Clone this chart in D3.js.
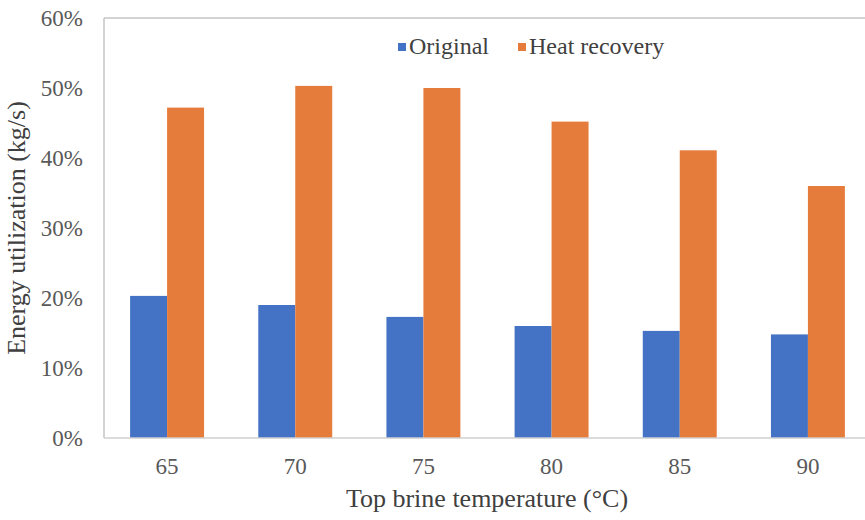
<!DOCTYPE html>
<html>
<head>
<meta charset="utf-8">
<script src="https://cdn.jsdelivr.net/npm/d3@7"></script>
<style>
  html, body { margin: 0; padding: 0; background: #fff; }
  svg { display: block; }
  text { font-family: "Liberation Serif", "Times New Roman", serif; }
</style>
</head>
<body>
<svg id="chart" width="865" height="520"></svg>
<script>
// Top brine temperature categories (°C)
const categories = ["65", "70", "75", "80", "85", "90"];
// Energy utilization, fraction of 1
const original = [0.203, 0.190, 0.173, 0.160, 0.153, 0.148];
const heatRecovery = [0.472, 0.503, 0.500, 0.452, 0.411, 0.360];
const seriesNames = ["Original", "Heat recovery"];
const yTicks = [0, 0.1, 0.2, 0.3, 0.4, 0.5, 0.6];

const colors = { "Original": "#4472c4", "Heat recovery": "#e67c3b" };

const svg = d3.select("#chart");
const plot = { left: 104, right: 872, top: 18, bottom: 438 };

const x0 = d3.scaleBand()
  .domain(categories)
  .range([plot.left - 1, plot.right])
  .paddingInner(0.423)
  .paddingOuter(0.2115);

const x1 = d3.scaleBand()
  .domain(seriesNames)
  .range([0, x0.bandwidth()]);

const y = d3.scaleLinear()
  .domain([0, 0.6])
  .range([plot.bottom, plot.top]);

const rows = categories.map((c, i) => ({
  cat: c,
  values: [
    { name: "Original", v: original[i] },
    { name: "Heat recovery", v: heatRecovery[i] }
  ]
}));

// Bars
const groups = svg.append("g").selectAll("g")
  .data(rows)
  .join("g")
  .attr("transform", d => `translate(${x0(d.cat)},0)`);

groups.selectAll("rect")
  .data(d => d.values)
  .join("rect")
  .attr("x", d => x1(d.name))
  .attr("y", d => y(d.v))
  .attr("width", x1.bandwidth())
  .attr("height", d => y(0) - y(d.v))
  .attr("fill", d => colors[d.name]);

// Frame: left and top lines
const frameColor = "#c4c4c4";
svg.append("line")
  .attr("x1", plot.left).attr("x2", plot.left)
  .attr("y1", plot.top).attr("y2", plot.bottom)
  .attr("stroke", frameColor).attr("stroke-width", 1.5);
svg.append("line")
  .attr("x1", plot.left).attr("x2", 865)
  .attr("y1", y(0.6)).attr("y2", y(0.6))
  .attr("stroke", frameColor).attr("stroke-width", 1.5);

// Y axis
const yAxis = d3.axisLeft(y)
  .tickValues(yTicks)
  .tickFormat(d3.format(".0%"))
  .tickSize(0)
  .tickPadding(21);
const gy = svg.append("g")
  .attr("transform", `translate(${plot.left},0)`)
  .call(yAxis);
gy.select(".domain").remove();
gy.selectAll("text")
  .attr("font-size", 23)
  .attr("fill", "#595959")
  .attr("font-family", "Liberation Serif, serif");

// X axis
const xAxis = d3.axisBottom(x0).tickSize(0).tickPadding(20);
const gx = svg.append("g")
  .attr("transform", `translate(0,${plot.bottom})`)
  .call(xAxis);
gx.select(".domain")
  .attr("d", `M${plot.left},0H865`)
  .attr("stroke", "#d0d0d0").attr("stroke-width", 1.5);
gx.selectAll("text")
  .attr("font-size", 23)
  .attr("fill", "#595959")
  .attr("font-family", "Liberation Serif, serif");

// Axis titles
svg.append("text")
  .attr("transform", `translate(25,${(plot.top + plot.bottom) / 2}) rotate(-90)`)
  .attr("text-anchor", "middle")
  .attr("font-size", 26)
  .attr("fill", "#404040")
  .text("Energy utilization (kg/s)");

svg.append("text")
  .attr("x", (plot.left + plot.right) / 2 - 1)
  .attr("y", 507)
  .attr("text-anchor", "middle")
  .attr("font-size", 26)
  .attr("fill", "#404040")
  .text("Top brine temperature (°C)");

// Legend
const legendItems = [
  { name: "Original", x: 398 },
  { name: "Heat recovery", x: 518 }
];
const li = svg.append("g").selectAll("g")
  .data(legendItems)
  .join("g")
  .attr("transform", d => `translate(${d.x},54)`);
li.append("rect")
  .attr("x", 0).attr("y", -11)
  .attr("width", 8).attr("height", 8)
  .attr("fill", d => colors[d.name]);
li.append("text")
  .attr("x", 11).attr("y", 0)
  .attr("font-size", 24)
  .attr("fill", "#404040")
  .text(d => d.name);
</script>
</body>
</html>
